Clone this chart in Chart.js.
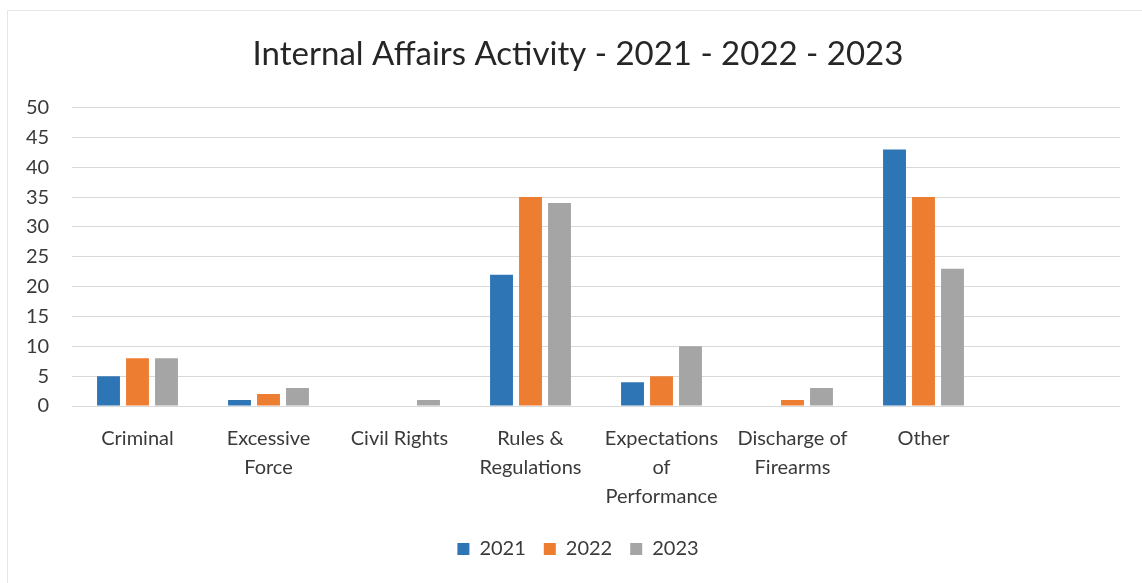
<!DOCTYPE html>
<html>
<head>
<meta charset="utf-8">
<script src="https://cdn.jsdelivr.net/npm/chart.js@4/dist/chart.umd.min.js"></script>
<style>
  html, body { margin: 0; padding: 0; background: #fff; }
  #wrap { position: absolute; left: 0; top: 0; width: 1142px; height: 583px; overflow: hidden; }
  #frame { position: absolute; left: 7px; top: 10px; width: 1200px; height: 640px; border: 1px solid #e6e6e6; }
  canvas { position: absolute; left: 0; top: 0; }
</style>
</head>
<body>
<div id="wrap">
  <div id="frame"></div>
  <canvas id="c" width="1142" height="583"></canvas>
</div>
<script>
const categories = [
  'Criminal',
  ['Excessive', 'Force'],
  'Civil Rights',
  ['Rules &', 'Regulations'],
  ['Expectations', 'of', 'Performance'],
  ['Discharge of', 'Firearms'],
  'Other',
  ''
];
const seriesNames = ['2021', '2022', '2023'];
const values2021 = [5, 1, 0, 22, 4, 0, 43, null];
const values2022 = [8, 2, 0, 35, 5, 1, 35, null];
const values2023 = [8, 3, 1, 34, 10, 3, 23, null];
const yTicks = [0, 5, 10, 15, 20, 25, 30, 35, 40, 45, 50];
const colors = ['#2e75b6', '#ed7d31', '#a5a5a5'];

const FONT = 'Lato, Carlito, "Open Sans", sans-serif';
const TEXT = '#3a3a3a';

new Chart(document.getElementById('c'), {
  type: 'bar',
  data: {
    labels: categories,
    datasets: [values2021, values2022, values2023].map((d, i) => ({
      label: seriesNames[i],
      data: d,
      backgroundColor: colors[i],
      borderWidth: 0,
      categoryPercentage: 0.664,
      barPercentage: 0.79
    }))
  },
  options: {
    responsive: false,
    animation: false,
    devicePixelRatio: 1,
    layout: { padding: { left: 36, right: 22, top: 0, bottom: 14 } },
    plugins: {
      title: {
        display: true,
        text: 'Internal Affairs Activity - 2021 - 2022 - 2023',
        color: '#262626',
        font: { family: FONT, size: 33, weight: 'normal' },
        padding: { top: 35, bottom: 33 }
      },
      legend: {
        position: 'bottom',
        labels: {
          color: TEXT,
          font: { family: FONT, size: 20 },
          boxWidth: 12,
          boxHeight: 12,
          padding: 18
        }
      },
      tooltip: { enabled: false }
    },
    scales: {
      x: {
        grid: { display: false },
        border: { display: false },
        ticks: {
          color: TEXT,
          font: { family: FONT, size: 20, lineHeight: 1.45 },
          maxRotation: 0,
          autoSkip: false,
          padding: 10
        }
      },
      y: {
        min: 0,
        max: 50,
        afterBuildTicks: (axis) => { axis.ticks = yTicks.map(v => ({ value: v })); },
        afterFit: (axis) => { axis.width = 36; },
        grid: { color: '#d9d9d9', lineWidth: 1, drawTicks: false },
        border: { display: false },
        ticks: {
          color: TEXT,
          font: { family: FONT, size: 20 },
          mirror: true,
          crossAlign: 'far',
          padding: -46
        }
      }
    }
  }
});
</script>
</body>
</html>
